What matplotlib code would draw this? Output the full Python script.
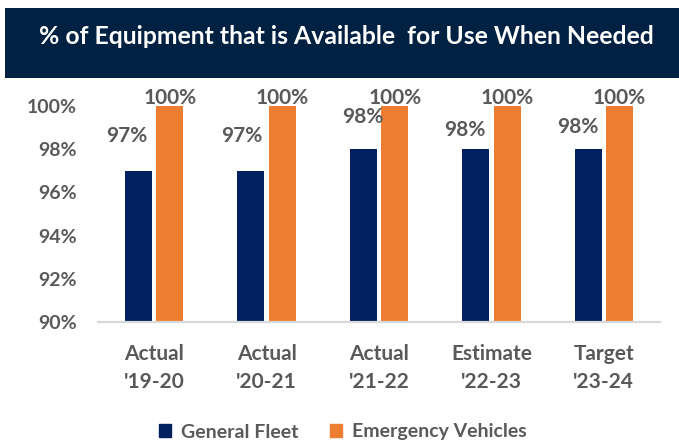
import matplotlib
matplotlib.use('Agg')
import matplotlib.pyplot as plt
import matplotlib.patches as mpatches
import numpy as np

# data
categories = ["Actual\n'19-20", "Actual\n'20-21", "Actual\n'21-22",
              "Estimate\n'22-23", "Target\n'23-24"]
general_fleet = [97, 97, 98, 98, 98]
emergency_vehicles = [100, 100, 100, 100, 100]
series_names = ["General Fleet", "Emergency Vehicles"]
title = "% of Equipment that is Available  for Use When Needed"

NAVY = "#002060"
ORANGE = "#ED7D31"
BANNER = "#002142"
GREY = "#595959"
FONT = "Lato"

# label placement tweaks (pixels) for the general fleet labels
navy_dx = [-12, -9, 0, -11, -10]
navy_dy = [35, 35, 32, 19, 22]

plt.rcParams['font.family'] = [FONT, 'DejaVu Sans']
plt.rcParams['font.weight'] = 'bold'

fig = plt.figure(figsize=(6.79, 4.45), dpi=100)

# title banner
fig.patches.append(mpatches.Rectangle((5 / 679, 1 - 78 / 445), 1, 70 / 445,
                                      transform=fig.transFigure,
                                      facecolor=BANNER, edgecolor='none'))
fig.text(0.51, 1 - 36 / 445, title, color='white', fontsize=17.8,
         fontweight='bold', ha='center', va='center')

ax = fig.add_axes([98 / 679, 1 - 322 / 445, 562 / 679, 216 / 445])
x = np.arange(len(categories))
w = 0.24
off = 0.14
ax.bar(x - off, general_fleet, w, color=NAVY, label=series_names[0])
ax.bar(x + off, emergency_vehicles, w, color=ORANGE, label=series_names[1])

ax.set_ylim(90, 100)
ax.set_xlim(-0.5, len(categories) - 0.5)
ax.set_yticks(np.arange(90, 101, 2))
ax.set_yticklabels([f"{v}%" for v in range(90, 101, 2)])
ax.set_xticks(x)
ax.set_xticklabels(categories, linespacing=1.5)

for s in ['top', 'right', 'left']:
    ax.spines[s].set_visible(False)
ax.spines['bottom'].set_color('#D9D9D9')
ax.spines['bottom'].set_linewidth(1.6)
ax.tick_params(axis='y', length=0, pad=15, labelsize=14, labelcolor=GREY)
ax.tick_params(axis='x', length=0, pad=16, labelsize=15, labelcolor=GREY)

for i, v in enumerate(general_fleet):
    ax.annotate(f"{v}%", xy=(x[i] - off, v), xytext=(navy_dx[i], navy_dy[i]),
                textcoords='offset pixels', ha='center', va='center',
                fontsize=15, color=GREY, fontweight='bold',
                annotation_clip=False)
for i, v in enumerate(emergency_vehicles):
    ax.annotate(f"{v}%", xy=(x[i] + off, v), xytext=(0, 8),
                textcoords='offset pixels', ha='center', va='center',
                fontsize=15, color=GREY, fontweight='bold',
                annotation_clip=False)

handles = [mpatches.Patch(color=NAVY), mpatches.Patch(color=ORANGE)]
fig.legend(handles, series_names, loc='center', bbox_to_anchor=(0.505, 13 / 445),
           ncol=2, frameon=False, fontsize=14, labelcolor=GREY,
           handlelength=0.65, handleheight=0.65, handletextpad=0.5,
           columnspacing=1.6)

fig.savefig("out.png", dpi=100)
